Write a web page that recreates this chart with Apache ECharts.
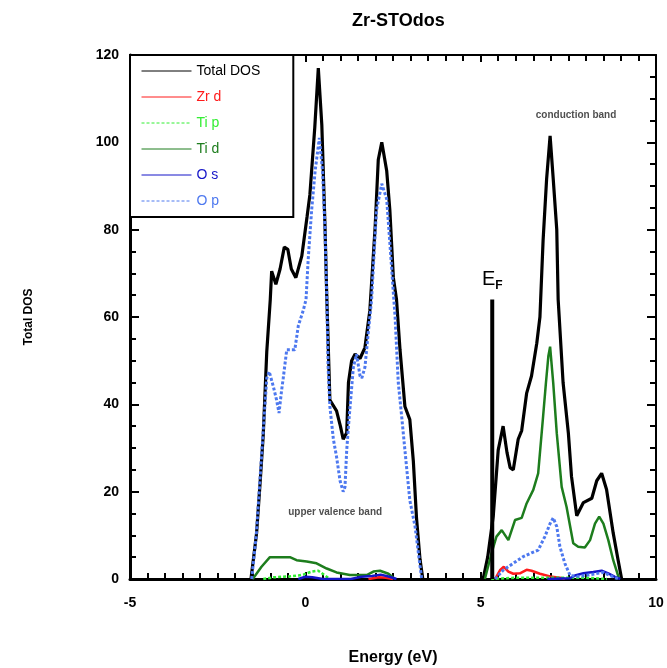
<!DOCTYPE html>
<html>
<head>
<meta charset="utf-8">
<script src="https://cdn.jsdelivr.net/npm/echarts@6/dist/echarts.min.js"></script>
<style>
  html, body { margin: 0; padding: 0; background: #fff; }
  #chart { width: 667px; height: 668px; }
</style>
</head>
<body>
<div id="chart"></div>
<script>
// [energy (eV), DOS], valence and conduction parts
const totalValence = [[-1.55,0],[-1.39,10.5],[-1.29,22],[-1.2,33],[-1.1,52],[-1.0,64],[-0.96,70.5],[-0.84,67.5],[-0.72,71],[-0.6,76],[-0.5,75.5],[-0.4,71],[-0.27,69],[-0.1,74],[0.05,83],[0.13,88],[0.27,103.5],[0.37,117],[0.47,104],[0.56,81],[0.61,65],[0.7,41],[0.89,38.5],[1.0,35],[1.08,32],[1.18,33.5],[1.23,45],[1.32,50],[1.42,51.5],[1.56,50.5],[1.7,53],[1.84,61.5],[1.99,80.5],[2.08,96],[2.18,100],[2.32,93.5],[2.41,84.5],[2.51,69],[2.6,64],[2.7,52.5],[2.84,39.5],[2.98,36.5],[3.08,27],[3.17,14],[3.27,4.5],[3.35,0]];
const totalConduction = [[5.07,0],[5.2,5],[5.36,14.5],[5.5,29.5],[5.64,35],[5.75,29],[5.84,25.5],[5.93,25],[6.07,32],[6.17,34],[6.31,42.5],[6.45,46.5],[6.6,54],[6.69,60],[6.78,77.5],[6.88,91.5],[6.98,101.5],[7.07,91.5],[7.17,80],[7.21,64],[7.35,45],[7.5,33.5],[7.59,23.5],[7.74,14.5],[7.93,17.5],[8.17,18.5],[8.31,22.5],[8.45,24.2],[8.59,20.5],[8.78,10.5],[8.92,4.3],[9.02,0]];

const zrdValence = [[1.8,0],[2.1,0.4],[2.3,0.3],[2.5,0]];
const zrdConduction = [[5.41,0],[5.55,2],[5.66,2.8],[5.79,1.7],[5.93,1.2],[6.12,1.3],[6.31,2.1],[6.45,1.9],[6.69,1.2],[6.98,0.6],[7.26,0.3],[7.4,0]];

const tipValence = [[-1.2,0],[-0.9,0.4],[-0.44,0.6],[-0.2,0.8],[-0.06,1.0],[0.18,1.7],[0.37,1.9],[0.56,0.8],[0.7,0]];
const tipConduction = [[5.3,0],[6.0,0.3],[7.0,0.3],[8.0,0.3],[8.6,0]];

const tidValence = [[-1.5,0],[-1.25,2.8],[-1.01,5],[-0.72,5],[-0.44,5],[-0.25,4.3],[0.04,4],[0.32,3.6],[0.61,2.4],[0.89,1.5],[1.27,0.9],[1.75,0.9],[1.94,1.7],[2.13,1.9],[2.37,1.2],[2.56,0]];
const tidConduction = [[5.12,0],[5.31,5.9],[5.45,9.7],[5.6,11.2],[5.79,8.9],[5.98,13.5],[6.17,14],[6.31,17.3],[6.5,20.4],[6.64,24.2],[6.78,37.2],[6.86,44.8],[6.93,51],[6.98,53.2],[7.07,44.8],[7.17,33.4],[7.31,21.1],[7.45,16.5],[7.64,8.2],[7.78,7.4],[7.97,7.2],[8.12,8.9],[8.26,12.7],[8.38,14.3],[8.5,12.7],[8.64,8.9],[8.78,4.3],[8.95,0]];

const osValence = [[-0.2,0],[0.0,0.5],[0.2,0.4],[0.5,0],[1.3,0],[1.6,0.5],[1.9,0.7],[2.15,1.0],[2.4,0.5],[2.6,0]];
const osConduction = [[6.9,0],[7.55,0.2],[7.69,0.8],[7.93,1.3],[8.21,1.6],[8.45,1.9],[8.64,1.3],[8.83,0.5],[8.98,0]];

const opValence = [[-1.53,0],[-1.4,10],[-1.25,28],[-1.1,46],[-1.03,47.5],[-0.91,44],[-0.82,41],[-0.75,38],[-0.68,43],[-0.63,46],[-0.53,52.5],[-0.3,52.5],[-0.2,58],[-0.06,61.5],[0.02,64],[0.08,73],[0.18,84.5],[0.28,93.5],[0.4,101],[0.49,93.5],[0.56,80.5],[0.61,65],[0.65,48.5],[0.7,39.5],[0.8,32],[0.89,28],[0.99,22.5],[1.08,20],[1.13,21],[1.18,29.5],[1.25,37],[1.37,48.5],[1.46,51.5],[1.56,46.5],[1.61,46],[1.7,48.5],[1.79,56],[1.89,64],[1.94,71.5],[2.03,84.5],[2.18,90.5],[2.32,87],[2.41,77],[2.51,65.5],[2.56,60],[2.65,45],[2.75,37],[2.84,29.5],[2.98,18],[3.13,12],[3.27,3],[3.32,0]];
const opConduction = [[5.41,0],[5.64,2],[5.93,3.6],[6.21,5.1],[6.45,6],[6.64,6.6],[6.83,9.7],[6.98,12.7],[7.07,14],[7.17,12],[7.26,7.4],[7.4,3.6],[7.55,0.8],[7.8,0.6],[8.12,1],[8.5,1.5],[8.83,0.3],[8.95,0]];

// Fermi level marker
const efLine = [[5.33,0],[5.33,64]];

// text notes inside the plot
const noteNames = ['upper valence band', 'conduction band'];
const noteX = [0.85, 7.72];
const noteY = [15.2, 106.2];

const seriesNames = ['Total DOS', 'Zr d', 'Ti p', 'Ti d', 'O s', 'O p'];
const seriesColors = ['#000000', '#ff1a1a', '#33ee33', '#1d7d1d', '#1515c8', '#4d78ef'];

const FONT = 'Liberation Sans';

function joinParts(a, b) {
  // null breaks the line between the two bands
  return a.concat([[4.2, null]], b);
}

const partData = [
  joinParts(totalValence, totalConduction),
  joinParts(zrdValence, zrdConduction),
  joinParts(tipValence, tipConduction),
  joinParts(tidValence, tidConduction),
  joinParts(osValence, osConduction),
  joinParts(opValence, opConduction)
];
const lineWidths = [3.2, 2.5, 2.5, 2.5, 2.5, 3];
const lineTypes = ['solid', 'solid', [3, 2], 'solid', 'solid', [3, 2]];

const chart = echarts.init(document.getElementById('chart'));

const series = seriesNames.map((name, i) => ({
  name: name,
  type: 'line',
  symbol: 'none',
  data: partData[i],
  color: seriesColors[i],
  lineStyle: { width: lineWidths[i], type: lineTypes[i], color: seriesColors[i] },
  z: 3
}));

series.push({
  name: 'EF',
  type: 'line',
  symbol: 'none',
  data: efLine,
  lineStyle: { width: 4, color: '#000' },
  z: 4,
  markPoint: {
    symbol: 'circle',
    symbolSize: 0,
    data: [{ coord: efLine[1] }],
    label: {
      show: true,
      position: 'top',
      distance: 8,
      formatter: '{e|E}{f|F}',
      rich: {
        e: { fontFamily: FONT, fontSize: 20, color: '#000' },
        f: { fontFamily: FONT, fontSize: 12, fontWeight: 'bold', color: '#000', padding: [12, 0, 0, 0] }
      }
    }
  }
});

series.push({
  name: 'notes',
  type: 'scatter',
  symbolSize: 0,
  data: noteNames.map((n, i) => ({ name: n, value: [noteX[i], noteY[i]] })),
  label: {
    show: true,
    position: 'inside',
    formatter: '{b}',
    fontFamily: FONT,
    fontSize: 10,
    fontWeight: 'bold',
    color: '#222'
  },
  z: 5
});

const tickLabel = { fontFamily: FONT, fontSize: 14, fontWeight: 'bold', color: '#000' };

const options = {
  animation: false,
  backgroundColor: '#fff',
  title: {
    text: 'Zr-STOdos',
    left: 347,
    top: 7,
    textStyle: { fontFamily: FONT, fontSize: 18, fontWeight: 'bold', color: '#000' }
  },
  legend: {
    orient: 'vertical',
    left: 130,
    top: 55,
    itemWidth: 50,
    itemHeight: 14,
    itemGap: 12,
    padding: [9, 33, 9, 11],
    backgroundColor: '#fff',
    borderColor: '#000',
    borderWidth: 2,
    borderRadius: 0,
    z: 10,
    lineStyle: { width: 1 },
    // hide the marker dot, keep only the line sample
    itemStyle: { opacity: 0 },
    textStyle: { fontFamily: FONT, fontSize: 14 },
    data: seriesNames.map((n, i) => ({ name: n, textStyle: { color: seriesColors[i] } }))
  },
  grid: { left: 130, right: 11, top: 55, bottom: 89, outerBoundsMode: 'none' },
  xAxis: [
    {
      type: 'value',
      min: -5,
      max: 10,
      interval: 5,
      name: 'Energy (eV)',
      nameLocation: 'middle',
      nameGap: 71,
      nameTextStyle: { fontFamily: FONT, fontSize: 16, fontWeight: 'bold', color: '#000' },
      axisLine: { show: true, onZero: false, lineStyle: { color: '#000', width: 3 } },
      axisTick: { show: true, inside: true, length: 7, lineStyle: { color: '#000', width: 2 } },
      minorTick: { show: true, splitNumber: 10, length: 6, lineStyle: { color: '#000', width: 2 } },
      axisLabel: Object.assign({ margin: 17 }, tickLabel),
      splitLine: { show: false }
    },
    {
      type: 'value',
      position: 'top',
      min: -5,
      max: 10,
      interval: 5,
      axisLine: { show: true, onZero: false, lineStyle: { color: '#000', width: 2 } },
      axisTick: { show: true, inside: true, length: 7, lineStyle: { color: '#000', width: 2 } },
      minorTick: { show: true, splitNumber: 10, length: 6, lineStyle: { color: '#000', width: 2 } },
      axisLabel: { show: false },
      splitLine: { show: false }
    }
  ],
  yAxis: [
    {
      type: 'value',
      min: 0,
      max: 120,
      interval: 20,
      name: 'Total DOS',
      nameLocation: 'middle',
      nameGap: 95,
      nameTextStyle: { fontFamily: FONT, fontSize: 12, fontWeight: 'bold', color: '#000' },
      axisLine: { show: true, onZero: false, lineStyle: { color: '#000', width: 3 } },
      axisTick: { show: true, inside: true, length: 9, lineStyle: { color: '#000', width: 2 } },
      minorTick: { show: true, splitNumber: 4, length: 6, lineStyle: { color: '#000', width: 2 } },
      axisLabel: Object.assign({ margin: 11 }, tickLabel),
      splitLine: { show: false }
    },
    {
      type: 'value',
      position: 'right',
      min: 0,
      max: 120,
      interval: 20,
      axisLine: { show: true, onZero: false, lineStyle: { color: '#000', width: 2 } },
      axisTick: { show: true, inside: true, length: 9, lineStyle: { color: '#000', width: 2 } },
      minorTick: { show: true, splitNumber: 4, length: 6, lineStyle: { color: '#000', width: 2 } },
      axisLabel: { show: false },
      splitLine: { show: false }
    }
  ],
  series: series
};

chart.setOption(options);
</script>
</body>
</html>
